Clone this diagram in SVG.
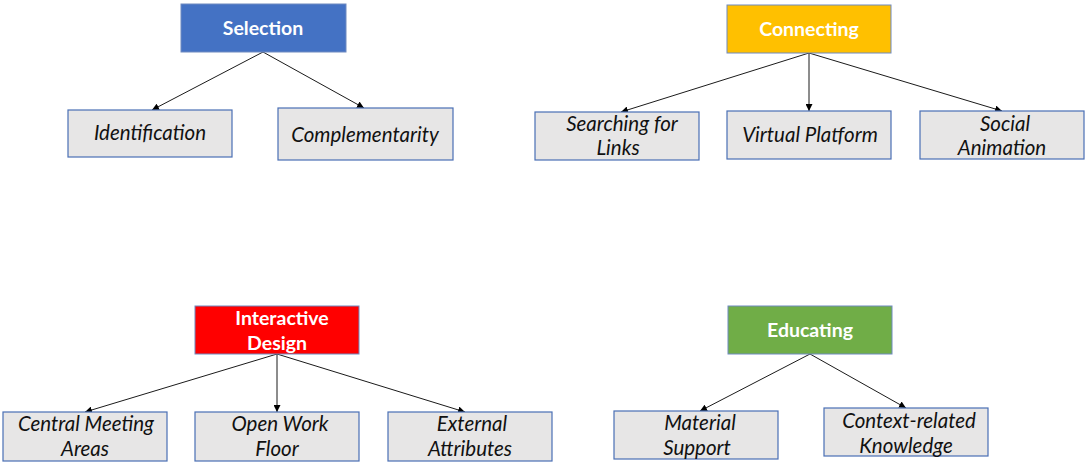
<svg xmlns="http://www.w3.org/2000/svg" width="1085" height="462" viewBox="0 0 1085 462">
<style>
.head{stroke:#6F8AC0;stroke-width:1}
.child{fill:#E7E6E6;stroke:#4A6FB5;stroke-width:1.2}
.ht{font-family:Lato,"Open Sans",sans-serif;font-weight:bold;font-size:19.5px;fill:#FFFFFF;text-anchor:middle}
.ct{font-family:Lato,"Open Sans",sans-serif;font-style:italic;font-size:20.5px;fill:#111111;text-anchor:middle}
.conn line{stroke:#000;stroke-width:0.9;marker-end:url(#arr)}
</style>
<defs>
<marker id="arr" viewBox="0 0 10 10" refX="10" refY="5" markerWidth="7" markerHeight="7" orient="auto" markerUnits="userSpaceOnUse">
<path d="M0,0 L10,5 L0,10 z" fill="#000"/>
</marker>
</defs>
<rect width="1085" height="462" fill="#FFFFFF"/>
<g id="connectors" class="conn">
<line x1="263" y1="52" x2="152" y2="110"/>
<line x1="263" y1="52" x2="364" y2="108"/>
<line x1="809" y1="53" x2="621" y2="112"/>
<line x1="809" y1="53" x2="809" y2="111"/>
<line x1="809" y1="53" x2="1002" y2="111"/>
<line x1="277" y1="354" x2="85" y2="412"/>
<line x1="277" y1="354" x2="277" y2="412"/>
<line x1="277" y1="354" x2="465" y2="412"/>
<line x1="810" y1="354" x2="700" y2="411"/>
<line x1="810" y1="354" x2="906" y2="408"/>
</g>
<g id="selection"><rect class="head" x="181" y="4" width="165" height="48" fill="#4472C4"/><text class="ht" x="263" y="35">Selection</text></g>
<g id="identification"><rect class="child" x="68" y="110" width="164" height="47"/><text class="ct" x="150" y="140">Identification</text></g>
<g id="complementarity"><rect class="child" x="278" y="108" width="175" height="52"/><text class="ct" x="365" y="142">Complementarity</text></g>
<g id="connecting"><rect class="head" x="727" y="5" width="164" height="48" fill="#FFC000"/><text class="ht" x="809" y="36">Connecting</text></g>
<g id="searching"><rect class="child" x="535" y="112" width="164" height="48"/><text class="ct" x="622" y="131">Searching for</text><text class="ct" x="618" y="155">Links</text></g>
<g id="virtual"><rect class="child" x="727" y="111" width="164" height="48"/><text class="ct" x="810" y="142">Virtual Platform</text></g>
<g id="social"><rect class="child" x="920" y="111" width="164" height="48"/><text class="ct" x="1005" y="131">Social</text><text class="ct" x="1002" y="155">Animation</text></g>
<g id="interactive"><rect class="head" x="195" y="306" width="164" height="48" fill="#FF0000"/><text class="ht" x="282" y="325">Interactive</text><text class="ht" x="277" y="350">Design</text></g>
<g id="central"><rect class="child" x="3" y="412" width="164" height="49"/><text class="ct" x="86" y="431">Central Meeting</text><text class="ct" x="85" y="456">Areas</text></g>
<g id="openwork"><rect class="child" x="195" y="412" width="164" height="49"/><text class="ct" x="280" y="431">Open Work</text><text class="ct" x="277" y="456">Floor</text></g>
<g id="external"><rect class="child" x="388" y="412" width="164" height="49"/><text class="ct" x="472" y="431">External</text><text class="ct" x="470" y="456">Attributes</text></g>
<g id="educating"><rect class="head" x="728" y="306" width="164" height="48" fill="#70AD47"/><text class="ht" x="810" y="337">Educating</text></g>
<g id="material"><rect class="child" x="614" y="411" width="164" height="48"/><text class="ct" x="700" y="430">Material</text><text class="ct" x="697" y="455">Support</text></g>
<g id="context"><rect class="child" x="824" y="408" width="164" height="48"/><text class="ct" x="909" y="428">Context-related</text><text class="ct" x="906" y="453">Knowledge</text></g>
</svg>
